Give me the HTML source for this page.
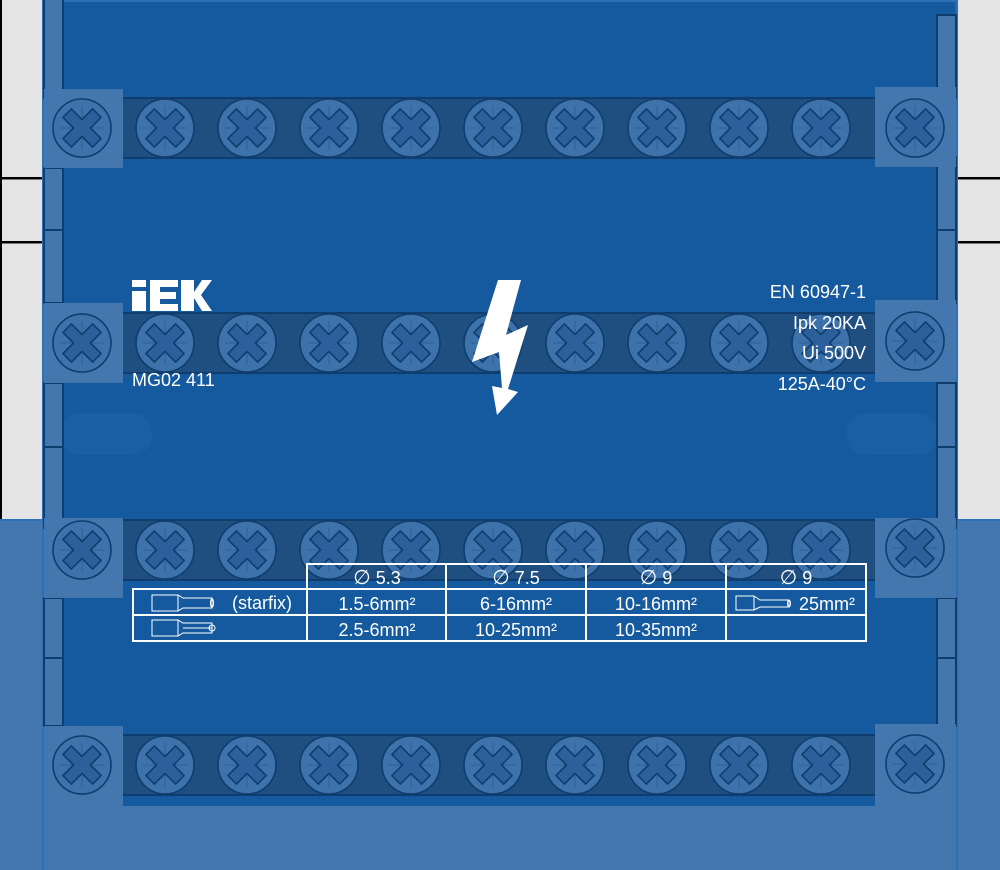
<!DOCTYPE html>
<html><head><meta charset="utf-8"><style>
html,body{margin:0;padding:0;width:1000px;height:870px;overflow:hidden;background:#e4e4e4}
svg{display:block}
text{font-family:"Liberation Sans",Arial,sans-serif;fill:#fff}
</style></head><body>
<svg width="1000" height="870" viewBox="0 0 1000 870" xmlns="http://www.w3.org/2000/svg">
<defs>
<g id="s">
<circle r="29" fill="#3e72aa" stroke="#0e3d6e" stroke-width="1.6"/>
<line x1="-22" y1="0" x2="22" y2="0" stroke="#2d609a" stroke-width="1"/>
<line x1="0" y1="-22" x2="0" y2="22" stroke="#2d609a" stroke-width="1"/>
<path transform="rotate(45)" d="M-6,-21 H6 V-6 H21 V6 H6 V21 H-6 V6 H-21 V-6 H-6 Z" fill="#2d609a" stroke="#0e3d6e" stroke-width="1.6" stroke-linejoin="round"/>
</g>
</defs>
<rect x="0" y="0" width="43" height="870" fill="#e4e4e4"/>
<rect x="957" y="0" width="43" height="870" fill="#e4e4e4"/>
<rect x="0" y="0" width="2" height="520" fill="#000"/>
<rect x="0" y="177" width="43" height="2.5" fill="#000"/>
<rect x="0" y="241" width="43" height="2.5" fill="#000"/>
<rect x="957" y="177" width="43" height="2.5" fill="#000"/>
<rect x="957" y="241" width="43" height="2.5" fill="#000"/>
<rect x="0" y="520" width="43" height="350" fill="#4377ad"/>
<rect x="957" y="520" width="43" height="350" fill="#4377ad"/>
<rect x="0" y="519" width="43" height="2" fill="#2e70b8"/>
<rect x="957" y="519" width="43" height="2" fill="#2e70b8"/>
<rect x="43" y="0" width="914" height="870" fill="#155a9e"/>
<rect x="43" y="0" width="914" height="2" fill="#2e70b8"/>
<rect x="42" y="0" width="2.5" height="870" fill="#2e70b8"/>
<rect x="955.5" y="0" width="2.5" height="870" fill="#2e70b8"/>
<rect x="60" y="413" width="92" height="42" rx="20" fill="#1b5fa3"/>
<rect x="846" y="413" width="92" height="42" rx="20" fill="#1b5fa3"/>
<rect x="44" y="806" width="912" height="64" fill="#4377ad"/>
<g fill="#4377ad" stroke="#0e3d6e" stroke-width="2">
<rect x="44" y="-2" width="19" height="100"/>
<rect x="44" y="168" width="19" height="62"/>
<rect x="44" y="230" width="19" height="73"/>
<rect x="44" y="383" width="19" height="64"/>
<rect x="44" y="447" width="19" height="81"/>
<rect x="44" y="598" width="19" height="60"/>
<rect x="44" y="658" width="19" height="68"/>
<rect x="937" y="15" width="19" height="83"/>
<rect x="937" y="157" width="19" height="73"/>
<rect x="937" y="230" width="19" height="73"/>
<rect x="937" y="383" width="19" height="64"/>
<rect x="937" y="447" width="19" height="81"/>
<rect x="937" y="598" width="19" height="60"/>
<rect x="937" y="658" width="19" height="68"/>
</g>
<g fill="#1f4e80" stroke="#0e3d6e" stroke-width="2">
<rect x="110" y="98" width="780" height="60"/>
<rect x="110" y="313" width="780" height="60"/>
<rect x="110" y="520" width="780" height="60"/>
<rect x="110" y="735" width="780" height="60"/>
</g>
<g fill="#4377ad">
<rect x="44" y="89" width="79" height="79"/>
<rect x="875" y="87" width="81" height="80"/>
<rect x="44" y="303" width="79" height="80"/>
<rect x="875" y="300" width="81" height="82"/>
<rect x="44" y="518" width="79" height="80"/>
<rect x="875" y="518" width="81" height="80"/>
<rect x="44" y="726" width="79" height="80"/>
<rect x="875" y="724" width="81" height="82"/>
</g>
<g>
<use href="#s" x="82" y="128"/><use href="#s" x="165" y="128"/><use href="#s" x="247" y="128"/><use href="#s" x="329" y="128"/><use href="#s" x="411" y="128"/><use href="#s" x="493" y="128"/><use href="#s" x="575" y="128"/><use href="#s" x="657" y="128"/><use href="#s" x="739" y="128"/><use href="#s" x="821" y="128"/><use href="#s" x="915" y="128"/>
<use href="#s" x="82" y="343"/><use href="#s" x="165" y="343"/><use href="#s" x="247" y="343"/><use href="#s" x="329" y="343"/><use href="#s" x="411" y="343"/><use href="#s" x="493" y="343"/><use href="#s" x="575" y="343"/><use href="#s" x="657" y="343"/><use href="#s" x="739" y="343"/><use href="#s" x="821" y="343"/><use href="#s" x="915" y="341"/>
<use href="#s" x="82" y="550"/><use href="#s" x="165" y="550"/><use href="#s" x="247" y="550"/><use href="#s" x="329" y="550"/><use href="#s" x="411" y="550"/><use href="#s" x="493" y="550"/><use href="#s" x="575" y="550"/><use href="#s" x="657" y="550"/><use href="#s" x="739" y="550"/><use href="#s" x="821" y="550"/><use href="#s" x="915" y="548"/>
<use href="#s" x="82" y="765"/><use href="#s" x="165" y="765"/><use href="#s" x="247" y="765"/><use href="#s" x="329" y="765"/><use href="#s" x="411" y="765"/><use href="#s" x="493" y="765"/><use href="#s" x="575" y="765"/><use href="#s" x="657" y="765"/><use href="#s" x="739" y="765"/><use href="#s" x="821" y="765"/><use href="#s" x="915" y="764"/>
</g>
<g fill="#fff">
<rect x="132" y="280" width="14" height="7"/>
<rect x="132" y="291" width="14" height="20"/>
<rect x="150" y="280" width="28" height="7"/>
<rect x="150" y="280" width="10" height="31"/>
<rect x="150" y="292" width="26" height="7"/>
<rect x="150" y="304" width="28" height="7"/>
<polygon points="181,280 194,280 194,292 202,280 212,280 201,295 212,311 202,311 194,298 194,311 181,311"/>
</g>
<text x="132" y="386" font-size="18">MG02 411</text>
<polygon fill="#fff" points="498,280 521,280 506,335 528,325 508,389 518,392 497,415 492,386 502,388 499,352 472,362"/>
<g font-size="18" text-anchor="end">
<text x="866" y="298">EN 60947-1</text>
<text x="866" y="329">Ipk 20KA</text>
<text x="866" y="359">Ui 500V</text>
<text x="866" y="390">125A-40°C</text>
</g>
<g stroke="#fff" stroke-width="2" fill="none">
<rect x="307" y="564" width="559" height="77"/>
<rect x="133" y="589" width="174" height="52"/>
<line x1="307" y1="589" x2="866" y2="589"/>
<line x1="133" y1="615" x2="866" y2="615"/>
<line x1="446" y1="564" x2="446" y2="641"/>
<line x1="586" y1="564" x2="586" y2="641"/>
<line x1="726" y1="564" x2="726" y2="641"/>
</g>
<g stroke="#fff" stroke-width="1" fill="none">
<path d="M152,595 H178 V611 H152 Z M178,595 L183,598 H212 V608 H183 L178,611"/>
<ellipse cx="212" cy="603" rx="1.5" ry="4"/>
<path d="M152,620 H178 V636 H152 Z M178,620 L183,623 H212 V633 H183 L178,636 M183,628 H212"/>
<circle cx="212" cy="628" r="3"/>
<path d="M736,596 H754 V610 H736 Z M754,596 L760,600 H789 V607 H760 L754,610"/>
<ellipse cx="789" cy="603.5" rx="1.5" ry="3.5"/>
</g>
<g font-size="18" text-anchor="middle">
<text x="262" y="609">(starfix)</text>
<text x="377" y="584"><tspan font-size="20">∅</tspan> 5.3</text>
<text x="516" y="584"><tspan font-size="20">∅</tspan> 7.5</text>
<text x="656" y="584"><tspan font-size="20">∅</tspan> 9</text>
<text x="796" y="584"><tspan font-size="20">∅</tspan> 9</text>
<text x="377" y="610">1.5-6mm²</text>
<text x="516" y="610">6-16mm²</text>
<text x="656" y="610">10-16mm²</text>
<text x="827" y="610">25mm²</text>
<text x="377" y="636">2.5-6mm²</text>
<text x="516" y="636">10-25mm²</text>
<text x="656" y="636">10-35mm²</text>
</g>
</svg>
</body></html>
